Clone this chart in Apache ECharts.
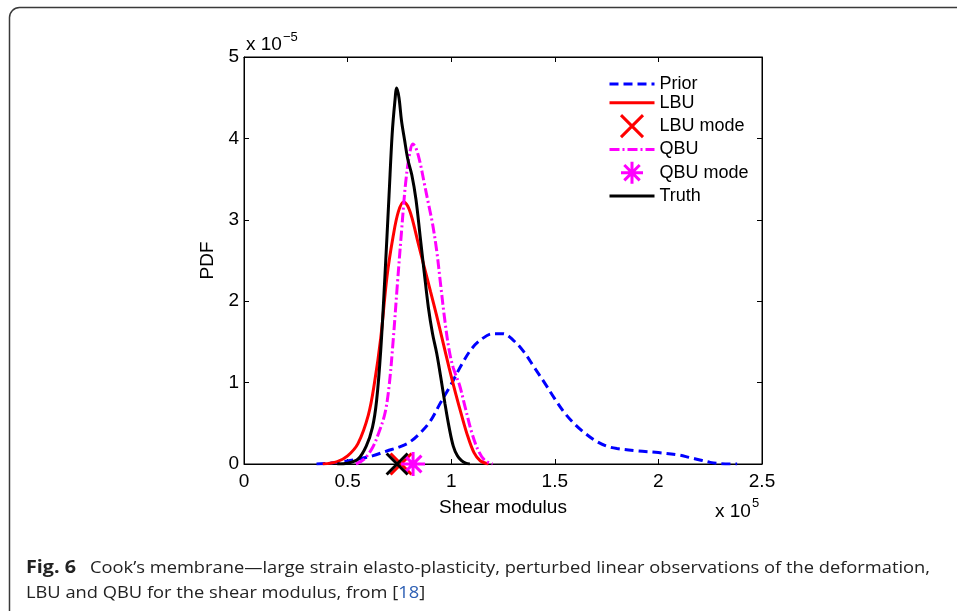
<!DOCTYPE html>
<html>
<head>
<meta charset="utf-8">
<script src="https://cdn.jsdelivr.net/npm/echarts@6/dist/echarts.min.js"></script>
<style>
  html, body { margin: 0; padding: 0; background: #fff; }
  #chart { width: 957px; height: 611px; }
</style>
</head>
<body>
<div id="chart"></div>
<script>
// shear modulus in units of 1e5, PDF in units of 1e-5
const priorX = [0.35, 0.45, 0.55, 0.62, 0.69, 0.75, 0.8, 0.85, 0.9, 0.95, 1.0, 1.05, 1.1, 1.15, 1.2, 1.25, 1.3, 1.35, 1.4, 1.45, 1.5, 1.55, 1.6, 1.65, 1.7, 1.75, 1.8, 1.9, 2.0, 2.1, 2.15, 2.2, 2.25, 2.3, 2.38]
const priorY = [0, 0.02, 0.06, 0.1, 0.16, 0.21, 0.27, 0.38, 0.53, 0.76, 0.98, 1.22, 1.42, 1.54, 1.6, 1.6, 1.52, 1.38, 1.19, 1.0, 0.8, 0.62, 0.48, 0.37, 0.28, 0.22, 0.19, 0.16, 0.14, 0.11, 0.08, 0.05, 0.02, 0.005, 0]

const lbuX = [0.38, 0.45, 0.5, 0.55, 0.6, 0.63, 0.66, 0.69, 0.72, 0.745, 0.77, 0.79, 0.81, 0.84, 0.87, 0.9, 0.93, 0.96, 0.99, 1.02, 1.05, 1.08, 1.11, 1.14, 1.18]
const lbuY = [0, 0.03, 0.1, 0.25, 0.6, 1.0, 1.55, 2.3, 2.8, 3.1, 3.22, 3.17, 3.03, 2.72, 2.42, 2.12, 1.82, 1.5, 1.18, 0.88, 0.6, 0.34, 0.14, 0.04, 0]

const qbuX = [0.54, 0.58, 0.62, 0.65, 0.68, 0.7, 0.72, 0.74, 0.76, 0.78, 0.8, 0.815, 0.83, 0.85, 0.87, 0.89, 0.91, 0.93, 0.95, 0.97, 0.99, 1.01, 1.04, 1.07, 1.1, 1.13, 1.16, 1.2]
const qbuY = [0, 0.06, 0.2, 0.38, 0.62, 0.95, 1.52, 2.2, 2.85, 3.45, 3.82, 3.93, 3.88, 3.7, 3.45, 3.2, 2.95, 2.62, 2.18, 1.75, 1.4, 1.18, 0.97, 0.67, 0.38, 0.17, 0.05, 0]

const truthX = [0.45, 0.5, 0.55, 0.59, 0.62, 0.64, 0.66, 0.68, 0.7, 0.715, 0.728, 0.737, 0.748, 0.76, 0.775, 0.79, 0.81, 0.83, 0.85, 0.87, 0.89, 0.91, 0.93, 0.95, 0.97, 0.99, 1.01, 1.03, 1.05, 1.07, 1.09]
const truthY = [0, 0.01, 0.06, 0.22, 0.45, 0.78, 1.4, 2.3, 3.3, 4.05, 4.45, 4.62, 4.5, 4.22, 3.98, 3.75, 3.55, 3.25, 2.8, 2.35, 1.92, 1.6, 1.36, 1.06, 0.74, 0.45, 0.22, 0.1, 0.04, 0.01, 0]

// modes (x, y)
const lbuMode = [0.758, 0]
const qbuMode = [0.816, 0]
const truthMode = [0.739, 0]

const xTickLabels = ['0', '0.5', '1', '1.5', '2', '2.5']
const yTickLabels = ['0', '1', '2', '3', '4', '5']

const captionBold = 'Fig. 6'
const captionLine1 = 'Cook\u2019s membrane\u2014large strain elasto-plasticity, perturbed linear observations of the deformation,'
const captionLine2 = 'LBU and QBU for the shear modulus, from ['
const captionRef = '18'

const FONT = '"Liberation Sans", Arial, sans-serif'
const CAP_FONT = '"Open Sans", "Noto Sans", sans-serif'

const zip = (xs, ys) => xs.map((x, i) => [x, ys[i]])

// marker glyphs
const crossPath = 'path://M0,0L10,10M10,0L0,10'
const starPath = 'path://M5,0L5,10M0,5L10,5M1.5,1.5L8.5,8.5M8.5,1.5L1.5,8.5'

// squeeze caption to the reference width (the condensed face is not installed)
const ctx = document.createElement('canvas').getContext('2d')
ctx.font = 'bold 17px "Open Sans"'
const boldW = ctx.measureText(captionBold).width
ctx.font = '17px "Open Sans"'
const line1W = ctx.measureText(captionLine1).width
const boldScale = 50 / boldW
const capScale = 840 / line1W

const chart = echarts.init(document.getElementById('chart'))

const lineSeries = (name, xs, ys, color, type) => ({
  name,
  type: 'line',
  data: zip(xs, ys),
  symbol: 'none',
  smooth: 0.35,
  lineStyle: { color, width: 3, type },
  itemStyle: { color },
  emphasis: { disabled: true },
  z: 3
})

const modeSeries = (name, pt, color, path, size) => ({
  name,
  type: 'scatter',
  data: [pt],
  symbol: path,
  symbolSize: size,
  symbolKeepAspect: true,
  itemStyle: { color: 'none', borderColor: color, borderWidth: 3, opacity: 1 },
  emphasis: { disabled: true },
  z: 5
})

const lineLegend = name => ({ name, itemStyle: { opacity: 0 } })
const markLegend = (name, color) => ({
  name, itemStyle: { color: 'none', borderColor: color, borderWidth: 3, opacity: 1 }
})

chart.setOption({
  animation: false,
  backgroundColor: '#fff',
  grid: {
    left: 244, right: 195, top: 57, bottom: 147, containLabel: false,
    show: true, borderColor: '#000', borderWidth: 1, backgroundColor: 'transparent'
  },
  legend: {
    data: [
      lineLegend('Prior'),
      lineLegend('LBU'),
      markLegend('LBU mode', '#ff0000'),
      lineLegend('QBU'),
      markLegend('QBU mode', '#ff00ff'),
      lineLegend('Truth')
    ],
    orient: 'vertical',
    left: 608,
    top: 75,
    itemWidth: 45,
    itemHeight: 22,
    itemGap: 0.8,
    padding: 0,
    lineStyle: { width: 3 },
    textStyle: { fontFamily: FONT, fontSize: 18, color: '#000' }
  },
  xAxis: [{
    type: 'value',
    min: 0, max: 2.5, interval: 0.5,
    name: 'Shear modulus',
    nameLocation: 'middle',
    nameGap: 34,
    nameTextStyle: { fontFamily: FONT, fontSize: 19, color: '#000' },
    axisLine: { show: true, onZero: false, lineStyle: { color: '#000', width: 1 } },
    axisTick: { show: true, inside: true, length: 5, lineStyle: { color: '#000' } },
    axisLabel: {
      fontFamily: FONT, fontSize: 19, color: '#000', margin: 8,
      formatter: v => xTickLabels[Math.round(v / 0.5)]
    },
    splitLine: { show: false }
  }, {
    type: 'value', position: 'top', show: true,
    min: 0, max: 2.5, interval: 0.5,
    axisLine: { show: true, onZero: false, lineStyle: { color: '#000', width: 1 } },
    axisTick: { show: true, inside: true, length: 5, lineStyle: { color: '#000' } },
    axisLabel: { show: false },
    splitLine: { show: false }
  }],
  yAxis: [{
    type: 'value',
    min: 0, max: 5, interval: 1,
    name: 'PDF',
    nameLocation: 'middle',
    nameGap: 14,
    nameRotate: 90,
    nameTextStyle: { fontFamily: FONT, fontSize: 19, color: '#000' },
    axisLine: { show: true, onZero: false, lineStyle: { color: '#000', width: 1 } },
    axisTick: { show: true, inside: true, length: 5, lineStyle: { color: '#000' } },
    axisLabel: {
      fontFamily: FONT, fontSize: 19, color: '#000', margin: 5,
      formatter: v => yTickLabels[Math.round(v)]
    },
    splitLine: { show: false }
  }, {
    type: 'value', position: 'right', show: true,
    min: 0, max: 5, interval: 1,
    axisLine: { show: true, onZero: false, lineStyle: { color: '#000', width: 1 } },
    axisTick: { show: true, inside: true, length: 5, lineStyle: { color: '#000' } },
    axisLabel: { show: false },
    splitLine: { show: false }
  }],
  series: [
    lineSeries('Prior', priorX, priorY, '#0000ff', [9, 5]),
    lineSeries('LBU', lbuX, lbuY, '#ff0000', 'solid'),
    modeSeries('LBU mode', lbuMode, '#ff0000', crossPath, 21),
    lineSeries('QBU', qbuX, qbuY, '#ff00ff', [10, 3, 2, 3]),
    modeSeries('QBU mode', qbuMode, '#ff00ff', starPath, 24),
    lineSeries('Truth', truthX, truthY, '#000000', 'solid'),
    modeSeries('Truth mode', truthMode, '#000000', crossPath, 21)
  ],
  graphic: [
    // figure frame
    {
      type: 'rect', silent: true, z: -1,
      shape: { x: 9.5, y: 7.5, width: 1000, height: 640, r: 10 },
      style: { fill: 'none', stroke: '#3a3a3a', lineWidth: 1.5 }
    },
    // axis multipliers
    { type: 'text', x: 246, y: 45, style: { text: 'x 10', font: '19px ' + FONT, fill: '#000', textVerticalAlign: 'middle' } },
    { type: 'text', x: 283, y: 37, style: { text: '\u22125', font: '13px ' + FONT, fill: '#000', textVerticalAlign: 'middle' } },
    { type: 'text', x: 715, y: 512, style: { text: 'x 10', font: '19px ' + FONT, fill: '#000', textVerticalAlign: 'middle' } },
    { type: 'text', x: 752, y: 503, style: { text: '5', font: '13px ' + FONT, fill: '#000', textVerticalAlign: 'middle' } },
    // caption
    {
      type: 'text', x: 26, y: 568, scaleX: boldScale,
      style: { text: captionBold, font: 'bold 17px ' + CAP_FONT, fill: '#222', textVerticalAlign: 'middle' }
    },
    {
      type: 'text', x: 90, y: 568, scaleX: capScale,
      style: { text: captionLine1, font: '17px ' + CAP_FONT, fill: '#222', textVerticalAlign: 'middle' }
    },
    {
      type: 'text', x: 26, y: 593, scaleX: capScale,
      style: {
        text: captionLine2 + '{r|' + captionRef + '}]',
        font: '17px ' + CAP_FONT, fill: '#222', textVerticalAlign: 'middle',
        rich: { r: { font: '17px ' + CAP_FONT, fill: '#2d5fb4' } }
      }
    }
  ]
})
</script>
</body>
</html>
